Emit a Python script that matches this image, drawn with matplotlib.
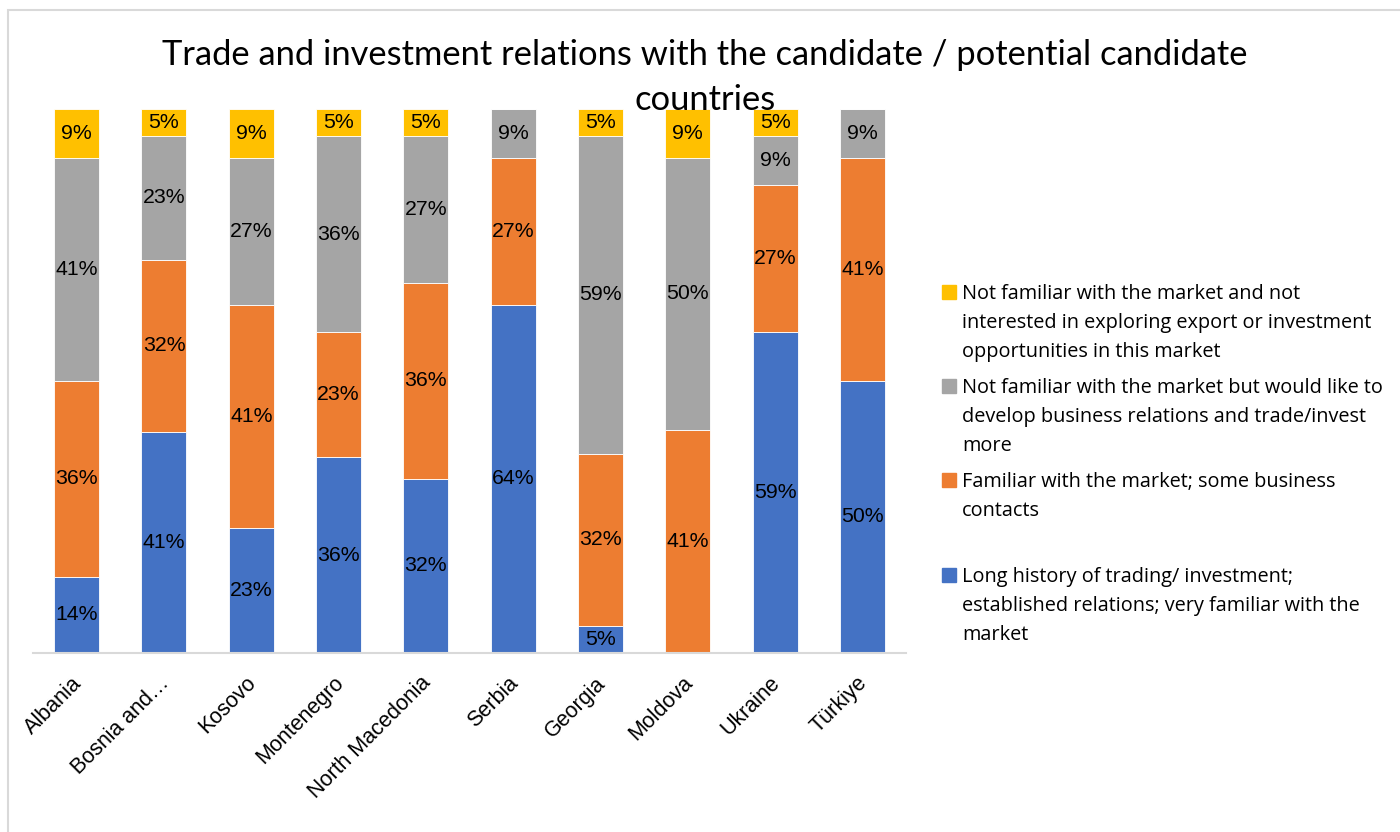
import numpy as np
import matplotlib.pyplot as plt
import matplotlib.transforms as mtrans
from matplotlib.patches import Rectangle

countries = ['Albania', 'Bosnia and…', 'Kosovo', 'Montenegro', 'North Macedonia',
             'Serbia', 'Georgia', 'Moldova', 'Ukraine', 'Türkiye']

# shares of respondents in %, bottom to top of each bar
long_history = [14, 41, 23, 36, 32, 64, 5, 0, 59, 50]
familiar = [36, 32, 41, 23, 36, 27, 32, 41, 27, 41]
not_familiar_interested = [41, 23, 27, 36, 27, 9, 59, 50, 9, 9]
not_interested = [9, 5, 9, 5, 5, 0, 5, 9, 5, 0]

series_labels = [
    'Long history of trading/ investment;\nestablished relations; very familiar with the\nmarket',
    'Familiar with the market; some business\ncontacts',
    'Not familiar with the market but would like to\ndevelop business relations and trade/invest\nmore',
    'Not familiar with the market and not\ninterested in exploring export or investment\nopportunities in this market',
]
colors = ['#4472C4', '#ED7D31', '#A5A5A5', '#FFC000']

title_lines = ['Trade and investment relations with the candidate / potential candidate',
               'countries']

W, H = 1400, 832
fig = plt.figure(figsize=(W / 100, H / 100), dpi=100)

def px(x, y):
    return x / W, 1 - y / H

# light frame around the chart area
fig.add_artist(Rectangle(px(8, 900), 2, (900 - 10) / H, transform=fig.transFigure,
                         fill=False, edgecolor='#D9D9D9', lw=1.5, clip_on=False))

ax = fig.add_axes([33 / W, 1 - 653 / H, (906 - 33) / W, (653 - 109) / H])

data = np.array([long_history, familiar, not_familiar_interested, not_interested], dtype=float)
totals = data.sum(axis=0)
shares = data / totals * 100  # 100% stacked

x = np.arange(len(countries))
bottom = np.zeros(len(countries))
for vals, raw, col in zip(shares, data, colors):
    ax.bar(x, vals, 0.515, bottom=bottom, color=col, edgecolor='white', linewidth=0.6)
    for xi, b, v, r in zip(x, bottom, vals, raw):
        if r > 0:
            ax.text(xi, b + v / 2, f'{int(r)}%', ha='center', va='center',
                    fontsize=15.3, family='Liberation Sans', color='black')
    bottom += vals

ax.set_xlim(-0.5, len(countries) - 0.5)
ax.set_ylim(0, 100)
ax.set_yticks([])
for s in ['top', 'left', 'right']:
    ax.spines[s].set_visible(False)
ax.spines['bottom'].set_color('#D9D9D9')
ax.spines['bottom'].set_linewidth(1.5)
ax.tick_params(axis='x', length=0, pad=19.5)
ax.set_xticks(x)
ax.set_xticklabels(countries, rotation=45, ha='right', va='center',
                   rotation_mode='anchor', fontsize=15.5, family='Liberation Sans')
shift = mtrans.ScaledTranslation(2 / 100, 0, fig.dpi_scale_trans)
for lbl in ax.get_xticklabels():
    lbl.set_transform(lbl.get_transform() + shift)

# title, drawn on top of the bars
for i, line in enumerate(title_lines):
    fig.text(*px(705, 65 + 45 * i), line, ha='center', va='baseline',
             fontsize=24.8, family='Lato', color='black', zorder=10)

# legend, top entry first
legend_y = [299, 393, 487, 582]
for y0, lab, col in zip(legend_y, series_labels[::-1], colors[::-1]):
    fig.add_artist(Rectangle(px(942, y0), 14 / W, 14 / H, transform=fig.transFigure,
                             color=col, clip_on=False))
    for j, line in enumerate(lab.split('\n')):
        fig.text(*px(962, y0 + 29 * j), line, ha='left', va='baseline',
                 fontsize=14.3, family='Open Sans', color='black')

fig.savefig('out.png', dpi=100)
